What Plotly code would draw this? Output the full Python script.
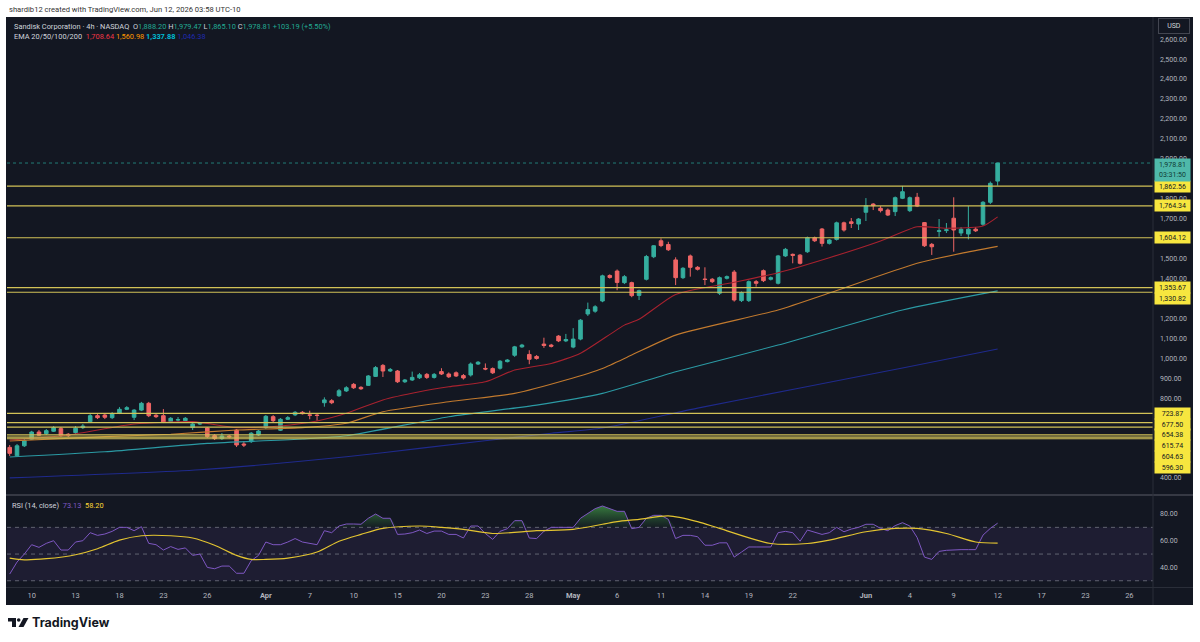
import plotly.graph_objects as go
import pandas as pd

W, H = 1200, 642

# ---------------- data ----------------
holidays = {"2026-04-03", "2026-05-25", "2026-06-19"}
trading_days = [d for d in pd.bdate_range("2026-03-06", "2026-06-30")
                if d.strftime("%Y-%m-%d") not in holidays]
sessions = ["09:30", "13:30"]
# first visible bar is the Mar 6 13:30 bar
bar_times = [pd.Timestamp(f"{d.date()} {s}") for d in trading_days for s in sessions][1:]

opens = [553, 511, 561, 594, 630, 622, 634, 647, 619, 627, 652, 682, 712, 715, 702, 724, 744, 704, 740, 774,
         714, 712, 682, 690, 687, 653, 670, 650, 612, 597, 610, 640, 570, 582, 615, 652, 707, 639, 694, 716,
         729, 716, 715, 777, 787, 812, 836, 869, 854, 864, 909, 964, 936, 936, 882, 891, 902, 919, 904, 933,
         921, 927, 913, 916, 971, 949, 948, 950, 983, 1015, 1057, 1019, 1009, 1071, 1066, 1111, 1087, 1056, 1096, 1222,
         1236, 1287, 1415, 1437, 1379, 1379, 1315, 1396, 1509, 1589, 1570, 1493, 1404, 1513, 1456, 1397, 1396, 1326, 1401, 1432,
         1289, 1289, 1384, 1439, 1396, 1376, 1513, 1521, 1517, 1534, 1604, 1648, 1576, 1596, 1679, 1684, 1673, 1732, 1773, 1752,
         1743, 1735, 1802, 1740, 1807, 1680, 1571, 1636, 1640, 1702, 1628, 1623, 1647, 1672, 1782, 1888.20]
highs = [565, 570, 595, 636, 640, 645, 660, 655, 625, 660, 670, 720, 720, 725, 730, 755, 760, 745, 781, 781,
         720, 745, 705, 705, 705, 675, 680, 655, 620, 625, 615, 645, 585, 630, 640, 715, 715, 700, 710, 735,
         735, 737, 725, 804, 795, 846, 860, 876, 860, 916, 961, 971, 951, 941, 896, 933, 926, 926, 926, 950,
         929, 934, 921, 979, 986, 974, 954, 991, 996, 1062, 1072, 1040, 1016, 1103, 1072, 1116, 1122, 1151, 1196, 1279,
         1266, 1419, 1421, 1445, 1417, 1384, 1344, 1518, 1567, 1601, 1584, 1506, 1457, 1520, 1462, 1456, 1402, 1410, 1415, 1442,
         1335, 1390, 1392, 1445, 1410, 1518, 1553, 1525, 1522, 1610, 1610, 1653, 1598, 1685, 1685, 1703, 1703, 1803, 1778, 1763,
         1751, 1811, 1864, 1811, 1829, 1683, 1578, 1698, 1678, 1807, 1658, 1763, 1658, 1788, 1886, 1979.47]
lows = [510, 505, 555, 590, 610, 615, 630, 605, 605, 620, 645, 675, 695, 695, 695, 720, 740, 690, 735, 705,
        700, 675, 675, 680, 680, 640, 665, 600, 590, 590, 598, 555, 555, 575, 610, 645, 680, 635, 690, 710,
        718, 694, 687, 757, 770, 806, 831, 846, 841, 861, 906, 906, 931, 876, 876, 886, 896, 896, 898, 916,
        901, 906, 893, 908, 966, 940, 921, 943, 979, 1007, 1052, 970, 993, 1052, 1054, 1081, 1081, 1050, 1090, 1212,
        1228, 1281, 1399, 1341, 1372, 1306, 1292, 1390, 1502, 1557, 1538, 1367, 1397, 1409, 1440, 1367, 1377, 1317, 1395, 1284,
        1282, 1282, 1359, 1382, 1390, 1370, 1508, 1476, 1470, 1528, 1583, 1560, 1570, 1590, 1635, 1653, 1643, 1688, 1743, 1731,
        1713, 1713, 1798, 1733, 1758, 1558, 1518, 1609, 1628, 1534, 1613, 1596, 1633, 1663, 1773, 1865.10]
closes = [523, 561, 586, 630, 614, 637, 652, 612, 612, 649, 660, 712, 702, 704, 720, 744, 752, 740, 774, 712,
          707, 680, 699, 692, 699, 670, 675, 607, 597, 610, 606, 565, 565, 624, 635, 709, 687, 694, 702, 729,
          722, 714, 713, 791, 777, 837, 852, 852, 847, 911, 953, 936, 944, 882, 891, 904, 917, 904, 919, 921,
          907, 911, 901, 971, 980, 946, 927, 985, 991, 1057, 1066, 995, 999, 1064, 1060, 1087, 1094, 1096, 1191, 1244,
          1258, 1413, 1405, 1380, 1409, 1314, 1339, 1510, 1564, 1565, 1544, 1404, 1451, 1456, 1446, 1395, 1384, 1404, 1409, 1292,
          1329, 1384, 1376, 1389, 1404, 1513, 1546, 1516, 1476, 1604, 1589, 1576, 1593, 1679, 1643, 1676, 1698, 1765, 1765, 1740,
          1718, 1805, 1835, 1805, 1763, 1564, 1559, 1639, 1644, 1643, 1647, 1647, 1639, 1782, 1877, 1978.81]

# EMA lines (values read at sample bars)
ema20_bars = [0, 8, 17, 25, 31, 37, 42, 46, 51, 56, 60, 65, 69, 74, 78, 84, 86, 91, 99, 105, 112, 119, 124, 128, 133, 135]
ema20_vals = [590, 615, 670, 682, 652, 660, 685, 724, 791, 832, 857, 882, 941, 974, 1025, 1166, 1195, 1320, 1381, 1429,
              1504, 1588, 1659, 1652, 1663, 1708.64]
ema50_bars = [0, 13, 22, 31, 40, 46, 51, 60, 69, 76, 81, 85, 91, 105, 112, 124, 130, 135]
ema50_vals = [585, 607, 619, 640, 652, 674, 732, 782, 824, 891, 949, 1016, 1116, 1242, 1327, 1476, 1526, 1560.98]
ema100_bars = [0, 13, 27, 40, 46, 60, 72, 81, 91, 105, 122, 135]
ema100_vals = [505, 531, 573, 595, 611, 707, 765, 824, 932, 1066, 1242, 1337.88]
ema200_bars = [0, 26, 46, 56, 74, 81, 94, 108, 122, 135]
ema200_vals = [400, 441, 506, 548, 624, 650, 750, 851, 951, 1046.38]

rsi = [35, 44, 50, 57, 55, 58, 60, 53, 53, 59, 60, 66, 64, 65, 67, 70, 70, 67.5, 70.5, 58,
       57, 53, 55.6, 53.5, 54.6, 49, 50, 40, 39, 41, 41, 35.6, 35.6, 45, 49, 59, 57, 57, 59, 61.6,
       59, 58, 57, 67.5, 66, 71, 72.5, 72.5, 72.3, 76.8, 80, 76.8, 76.8, 64.7, 65, 66, 68, 65.4, 67.2, 67.2,
       64.7, 64.7, 62, 71, 71, 65.4, 61, 67, 69, 75, 75, 62, 61.6, 67, 70, 70, 70, 70, 76.8, 80.6,
       84, 86, 84, 82, 82, 69, 70, 76.8, 79, 79, 76, 61.6, 64, 64, 63, 56.6, 56.6, 58.4, 58.4, 47.7,
       51.5, 55.3, 55.3, 55.3, 55.3, 66, 67, 66, 59.6, 68, 66.2, 64.7, 66, 70, 66.7, 68.7, 70, 72.3, 72.3, 69.2,
       67.5, 71.3, 73.5, 71, 62.4, 47.7, 46, 52, 52.8, 53.3, 53.3, 53.3, 53.3, 64.2, 69.2, 73.13]
rsi_ma_bars = [0, 2, 5, 9, 12, 15, 18, 22, 25, 28, 31, 33, 35, 38, 42, 45, 48, 51, 56, 59, 62, 66, 72, 77, 81,
               83, 86, 90, 94, 97, 104, 109, 112, 117, 121, 124, 128, 132, 135]
rsi_ma_vals = [47, 45.7, 46.5, 49.5, 54, 60.4, 63.7, 63.7, 62, 56.6, 49, 46, 46, 47, 51.5, 59.6, 64.7, 69.2, 71, 70,
               68.5, 65.4, 67.5, 68.5, 72.3, 74.3, 76, 78.6, 74.3, 69.2, 57.9, 57.9, 60.4, 66.7, 69.2, 69.2, 65.4, 59, 58.2]

levels = [1862.56, 1764.34, 1604.12, 1353.67, 1330.82, 723.87, 677.50, 654.38, 615.74, 604.63, 596.30]
last_price = 1978.81
countdown = "03:31:50"
# price-scale labels that TradingView still shows (others are hidden under the level labels)
price_ticks = [400, 800, 900, 1000, 1100, 1200, 1400, 1500, 1700, 1800, 2000, 2100, 2200, 2300, 2400, 2500, 2600]
rsi_ticks = [40, 60, 80]

tick_dates = ["2026-03-10", "2026-03-13", "2026-03-18", "2026-03-23", "2026-03-26", "2026-04-01", "2026-04-07",
              "2026-04-10", "2026-04-15", "2026-04-20", "2026-04-23", "2026-04-28", "2026-05-01", "2026-05-06",
              "2026-05-11", "2026-05-14", "2026-05-19", "2026-05-22", "2026-06-01", "2026-06-04", "2026-06-09",
              "2026-06-12", "2026-06-17", "2026-06-23", "2026-06-26"]
tick_text = ["10", "13", "18", "23", "26", "Apr", "7", "10", "15", "20", "23", "28", "May", "6", "11", "14", "19",
             "22", "Jun", "4", "9", "12", "17", "23", "26"]

# ---------------- geometry / style ----------------
n = len(closes)
bars = list(range(n))
day_str = [t.strftime("%Y-%m-%d") for t in bar_times]
tickvals = [day_str.index(d) for d in tick_dates]
ticktext = [f"<b>{t}</b>" if t.isalpha() else t for t in tick_text]

def px(x):
    return x / W

def py(y):
    return 1 - y / H

X_L, X_R = 7, 1153
PRICE_TOP, PRICE_BOT = 17, 494
RSI_TOP, RSI_BOT = 496, 587
x_range = [-0.369, 156.23]
p_range = [319.3, 2711.0]
r_range = [25.32, 93.48]

BG = "#131722"
UP, DN = "#35ae9f", "#ef6565"
YEL_LINE = "#d2c257"
TXT = "#b2b5be"
FONT = "Roboto"

fig = go.Figure()

fig.add_trace(go.Candlestick(
    x=bars, open=opens, high=highs, low=lows, close=closes,
    increasing=dict(line=dict(color=UP, width=1), fillcolor=UP),
    decreasing=dict(line=dict(color=DN, width=1), fillcolor=DN),
    whiskerwidth=0, xaxis="x", yaxis="y", showlegend=False, hoverinfo="skip"))

for b, v, c in [(ema200_bars, ema200_vals, "#1f2a8c"), (ema100_bars, ema100_vals, "#2b9aa4"),
                (ema50_bars, ema50_vals, "#c27a2e"), (ema20_bars, ema20_vals, "#a8222f")]:
    fig.add_trace(go.Scatter(x=b, y=v, mode="lines", line=dict(color=c, width=1.1, shape="spline", smoothing=0.6),
                             xaxis="x", yaxis="y", showlegend=False, hoverinfo="skip"))

# RSI overbought fill
fig.add_trace(go.Scatter(x=bars, y=[70] * n, mode="lines", line=dict(width=0), xaxis="x2", yaxis="y2",
                         showlegend=False, hoverinfo="skip"))
fig.add_trace(go.Scatter(x=bars, y=[max(v, 70) for v in rsi], mode="lines", line=dict(width=0), fill="tonexty",
                         fillgradient=dict(type="vertical", start=70, stop=88,
                                           colorscale=[[0, "rgba(56,142,60,0.05)"], [1, "rgba(76,175,80,0.75)"]]),
                         xaxis="x2", yaxis="y2", showlegend=False, hoverinfo="skip"))
fig.add_trace(go.Scatter(x=bars, y=rsi, mode="lines", line=dict(color="#7e57c2", width=1),
                         xaxis="x2", yaxis="y2", showlegend=False, hoverinfo="skip"))
fig.add_trace(go.Scatter(x=rsi_ma_bars, y=rsi_ma_vals, mode="lines",
                         line=dict(color="#e3c431", width=1.2, shape="spline", smoothing=0.8),
                         xaxis="x2", yaxis="y2", showlegend=False, hoverinfo="skip"))

shapes = []
# dark panel
shapes.append(dict(type="rect", xref="paper", yref="paper", x0=px(6), x1=px(1193), y0=py(605), y1=py(17),
                   fillcolor=BG, line=dict(width=0), layer="below"))
# RSI band
shapes.append(dict(type="rect", xref="x2 domain", yref="y2", x0=0, x1=1, y0=30, y1=70,
                   fillcolor="rgba(126,87,194,0.10)", line=dict(width=0), layer="below"))
for lv in (70, 50, 30):
    shapes.append(dict(type="line", xref="x2 domain", yref="y2", x0=0, x1=1, y0=lv, y1=lv,
                       line=dict(color="rgba(120,123,134,0.75)", width=1, dash="4px,4px"), layer="below"))
# level lines
for lv in levels:
    shapes.append(dict(type="line", xref="x domain", yref="y", x0=0, x1=1, y0=lv, y1=lv,
                       line=dict(color=YEL_LINE, width=1.2), layer="above"))
# last price dotted line
shapes.append(dict(type="line", xref="x domain", yref="y", x0=0, x1=1, y0=last_price, y1=last_price,
                   line=dict(color="rgba(38,166,154,0.7)", width=1, dash="dot"), layer="above"))
# separators
shapes.append(dict(type="line", xref="paper", yref="paper", x0=px(6), x1=px(1193), y0=py(495), y1=py(495),
                   line=dict(color="#434651", width=1.5)))
shapes.append(dict(type="line", xref="paper", yref="paper", x0=px(6), x1=px(1193), y0=py(587.5), y1=py(587.5),
                   line=dict(color="#2a2e39", width=1)))
shapes.append(dict(type="line", xref="paper", yref="paper", x0=px(1153), x1=px(1153), y0=py(605), y1=py(17),
                   line=dict(color="#2a2e39", width=1)))

# TradingView logo mark
def path(pts):
    return "M " + " L ".join(f"{px(a)},{py(b)}" for a, b in pts) + " Z"
shapes.append(dict(type="path", xref="paper", yref="paper",
                   path=path([(8, 618), (16, 618), (16, 627), (12, 627), (12, 621.6), (8, 621.6)]),
                   fillcolor="#131722", line=dict(width=0)))
shapes.append(dict(type="circle", xref="paper", yref="paper", x0=px(16.9), x1=px(20.5), y0=py(621.8), y1=py(618.2),
                   fillcolor="#131722", line=dict(width=0)))
shapes.append(dict(type="path", xref="paper", yref="paper",
                   path=path([(23.5, 618), (28.5, 618), (23.5, 627), (18.5, 627)]),
                   fillcolor="#131722", line=dict(width=0)))

ann = []
ann.append(dict(x=px(7), y=py(9.5), xref="paper", yref="paper", xanchor="left", yanchor="middle", showarrow=False,
                text="shardib12 created with TradingView.com, Jun 12, 2026 03:58 UTC-10",
                font=dict(family=FONT, size=7.6, color="#333333")))
teal = "#22ab94"
hdr1 = ("Sandisk Corporation · 4h · NASDAQ&nbsp;&nbsp;"
        f"O<span style='color:{teal}'>1,888.20</span> H<span style='color:{teal}'>1,979.47</span> "
        f"L<span style='color:{teal}'>1,865.10</span> C<span style='color:{teal}'>1,978.81</span> "
        f"<span style='color:{teal}'>+103.19 (+5.50%)</span>")
ann.append(dict(x=px(12), y=py(26), xref="paper", yref="paper", xanchor="left", yanchor="middle", showarrow=False,
                text=hdr1, font=dict(family=FONT, size=7.4, color="#d1d4dc")))
hdr2 = ("EMA 20/50/100/200&nbsp;&nbsp;"
        f"<span style='color:#f23645'>{ema20_vals[-1]:,.2f}</span> "
        f"<span style='color:#ff9800'>{ema50_vals[-1]:,.2f}</span> "
        f"<span style='color:#00bcd4'><b>{ema100_vals[-1]:,.2f}</b></span> "
        f"<span style='color:#1f2ab0'>{ema200_vals[-1]:,.2f}</span>")
ann.append(dict(x=px(12), y=py(37), xref="paper", yref="paper", xanchor="left", yanchor="middle", showarrow=False,
                text=hdr2, font=dict(family=FONT, size=7.4, color="#d1d4dc")))
ann.append(dict(x=px(10), y=py(505.5), xref="paper", yref="paper", xanchor="left", yanchor="middle", showarrow=False,
                text=f"RSI (14, close)&nbsp;&nbsp;<span style='color:#7e57c2'>{rsi[-1]:.2f}</span>&nbsp;&nbsp;"
                     f"<span style='color:#fdd835'>{rsi_ma_vals[-1]:.2f}</span>",
                font=dict(family=FONT, size=7.4, color="#d1d4dc")))
ann.append(dict(x=px(1174), y=py(26.5), xref="paper", yref="paper", xanchor="center", yanchor="middle",
                showarrow=False, text="USD", font=dict(family=FONT, size=7, color="#d1d4dc"),
                bgcolor="#131722", bordercolor="#434651", borderwidth=1, borderpad=2, width=26, height=10))
ann.append(dict(x=px(30), y=py(622.5), xref="paper", yref="paper", xanchor="left", yanchor="middle",
                showarrow=False, text="<b>TradingView</b>", font=dict(family="Inter", size=12.5, color="#131722")))

# price labels on the axis, stacked like TradingView
unit_px = (PRICE_BOT - PRICE_TOP) / (p_range[1] - p_range[0])
def ypix(v):
    return PRICE_BOT - (v - p_range[0]) * unit_px
prev = None
for lv in sorted(levels, reverse=True):
    p = ypix(lv)
    q = p if prev is None or p >= prev + 10.8 else prev + 10.8
    prev = q
    ann.append(dict(x=px(1172.5), y=lv, xref="paper", yref="y", xanchor="center", yanchor="middle",
                    yshift=-(q - p), showarrow=False, text=f"{lv:,.2f}",
                    font=dict(family=FONT, size=7, color="#131722"),
                    bgcolor="#f7e63f", borderpad=1, width=33, height=9))
ann.append(dict(x=px(1172.5), y=last_price, xref="paper", yref="y", xanchor="center", yanchor="top",
                yshift=5, showarrow=False, text=f"{last_price:,.2f}<br>{countdown}",
                font=dict(family=FONT, size=7, color="#0f3b35"),
                bgcolor="#4fb9aa", borderpad=1, width=33, height=20))

fig.update_layout(
    width=W, height=H, autosize=False,
    margin=dict(l=0, r=0, t=0, b=0, pad=0),
    paper_bgcolor="white", plot_bgcolor=BG,
    showlegend=False, hovermode=False,
    font=dict(family=FONT, color=TXT),
    xaxis=dict(domain=[px(X_L), px(X_R)], range=x_range, anchor="y", showticklabels=False, showgrid=False,
               zeroline=False, showline=False, ticks="", rangeslider=dict(visible=False), fixedrange=True),
    xaxis2=dict(domain=[px(X_L), px(X_R)], range=x_range, anchor="y2", matches="x", tickmode="array",
                tickvals=tickvals, ticktext=ticktext, tickfont=dict(family=FONT, size=7.5, color=TXT),
                showgrid=False, zeroline=False, showline=False, ticks="", ticklabelstandoff=2),
    yaxis=dict(domain=[py(PRICE_BOT), py(PRICE_TOP)], range=p_range, side="right", anchor="x",
               tickmode="array", tickvals=price_ticks, tickformat=",.2f",
               tickfont=dict(family=FONT, size=7, color=TXT),
               showgrid=False, zeroline=False, showline=False, ticks="", ticklabelstandoff=6),
    yaxis2=dict(domain=[py(RSI_BOT), py(RSI_TOP)], range=r_range, side="right", anchor="x2",
                tickmode="array", tickvals=rsi_ticks, tickformat=".2f",
                tickfont=dict(family=FONT, size=7, color=TXT),
                showgrid=False, zeroline=False, showline=False, ticks="", ticklabelstandoff=6),
    shapes=shapes, annotations=ann,
)

fig.write_html("out.html")
